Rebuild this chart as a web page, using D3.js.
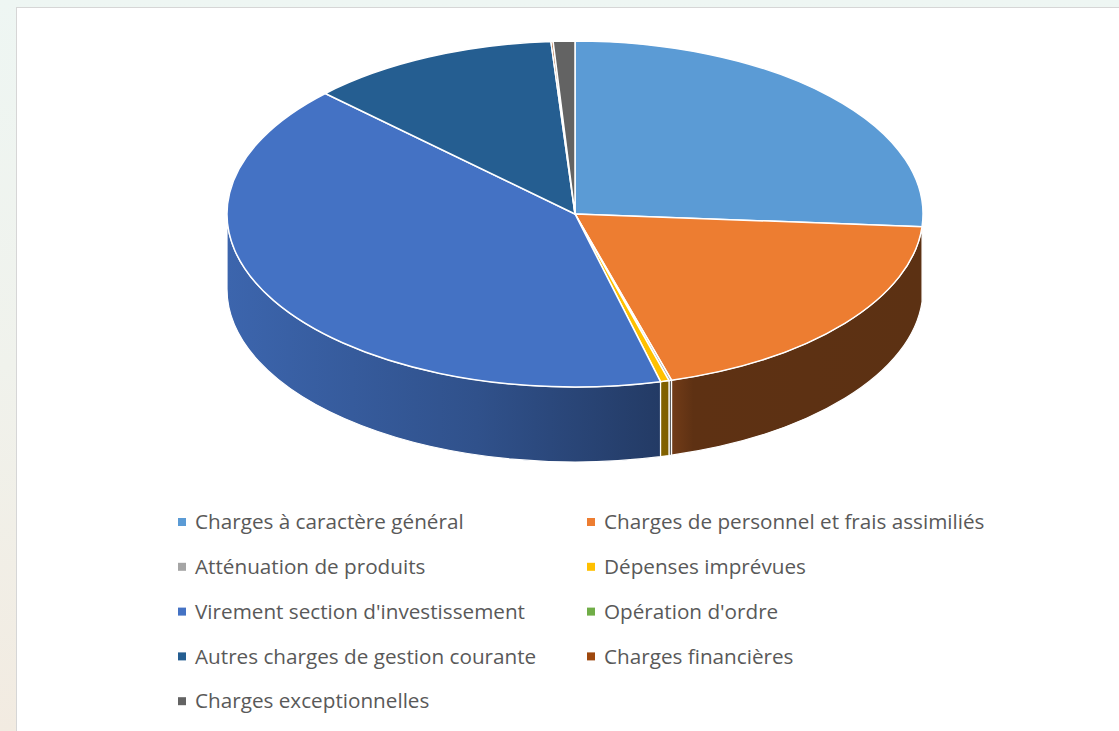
<!DOCTYPE html>
<html>
<head>
<meta charset="utf-8">
<script src="https://cdn.jsdelivr.net/npm/d3@7"></script>
<style>
  html, body { margin: 0; padding: 0; }
  body {
    width: 1119px; height: 731px; overflow: hidden;
    background: linear-gradient(180deg, #eef6f3 0%, #f0f2ec 50%, #f2ebe1 100%);
  }
  svg { display: block; }
</style>
</head>
<body>
<div id="chart"></div>
<script>
// Budget de fonctionnement, répartition des dépenses (parts estimées en %)
const categories = [
  "Charges à caractère général",
  "Charges de personnel et frais assimiliés",
  "Atténuation de produits",
  "Dépenses imprévues",
  "Virement section d'investissement",
  "Opération d'ordre",
  "Autres charges de gestion courante",
  "Charges financières",
  "Charges exceptionnelles"
];
const values = [26.1, 19.3, 0.12, 0.4, 41.1, 0, 11.6, 0.1, 1.0];
const colors = ["#5B9BD5", "#ED7D31", "#A5A5A5", "#FFC000", "#4472C4",
                "#70AD47", "#255E91", "#9E480E", "#636363"];

const width = 1119, height = 731;
const cx = 575, cy = 214, rx = 348, ry = 173, depth = 75;

const data = categories.map((c, i) => ({ name: c, value: values[i], color: colors[i] }));

const svg = d3.select("#chart").append("svg")
    .attr("width", width)
    .attr("height", height);

// chart area frame
svg.append("rect")
    .attr("x", 16.5).attr("y", 7.5)
    .attr("width", width + 10).attr("height", height + 10)
    .attr("fill", "#fff")
    .attr("stroke", "#d6d6d6");

const pie = d3.pie().sort(null).value(d => d.value)
    .startAngle(0).endAngle(2 * Math.PI);
const arcs = pie(data).filter(d => d.value > 0);

// point on the top ellipse, angle measured clockwise from 12 o'clock
const px = a => cx + rx * Math.sin(a);
const py = a => cy - ry * Math.cos(a);

const defs = svg.append("defs");
// side shading: lighter on the left, darker on the right
const shade = [[0, 0.35], [0.36, 0.97], [0.63, 1.9], [0.67, 2.6], [1, 2.65]];
arcs.forEach((d, i) => {
  const g = defs.append("linearGradient")
      .attr("id", "side" + i)
      .attr("gradientUnits", "userSpaceOnUse")
      .attr("x1", cx - rx).attr("x2", cx + rx)
      .attr("y1", 0).attr("y2", 0);
  shade.forEach(s => {
    g.append("stop")
        .attr("offset", s[0])
        .attr("stop-color", d3.color(d.data.color).darker(s[1]).formatHex());
  });
});

// sides (visible half: from 3 o'clock through 6 o'clock to 9 o'clock)
const sides = svg.append("g");
arcs.forEach((d, i) => {
  const s = Math.max(d.startAngle, Math.PI / 2);
  const e = Math.min(d.endAngle, 3 * Math.PI / 2);
  if (e <= s) return;
  const large = (e - s) > Math.PI ? 1 : 0;
  const path = `M${px(s)},${py(s)}` +
      `A${rx},${ry} 0 ${large} 1 ${px(e)},${py(e)}` +
      `L${px(e)},${py(e) + depth}` +
      `A${rx},${ry} 0 ${large} 0 ${px(s)},${py(s) + depth}Z`;
  sides.append("path")
      .attr("d", path)
      .attr("fill", `url(#side${i})`)
      .attr("stroke", "#fff")
      .attr("stroke-width", 1.2)
      .attr("stroke-linejoin", "round");
});

// top faces
svg.append("g").selectAll("path")
  .data(arcs)
  .join("path")
    .attr("d", d => {
      const large = (d.endAngle - d.startAngle) > Math.PI ? 1 : 0;
      return `M${cx},${cy}L${px(d.startAngle)},${py(d.startAngle)}` +
        `A${rx},${ry} 0 ${large} 1 ${px(d.endAngle)},${py(d.endAngle)}Z`;
    })
    .attr("fill", d => d.data.color)
    .attr("stroke", "#fff")
    .attr("stroke-width", 1.5)
    .attr("stroke-linejoin", "round");

// legend, two columns
const legend = svg.append("g")
    .attr("font-family", "'Open Sans', Lato, sans-serif")
    .attr("font-size", 20.7)
    .attr("fill", "#595959");

const colX = [178, 587], row0 = 522, rowStep = 44.8;
const items = legend.selectAll("g")
  .data(data)
  .join("g")
    .attr("transform", (d, i) =>
      `translate(${colX[i % 2]},${row0 + Math.floor(i / 2) * rowStep})`);

items.append("rect")
    .attr("x", 0).attr("y", -4)
    .attr("width", 8).attr("height", 8)
    .attr("fill", d => d.color);

items.append("text")
    .attr("x", 17)
    .attr("dy", "0.35em")
    .text(d => d.name);
</script>
</body>
</html>
